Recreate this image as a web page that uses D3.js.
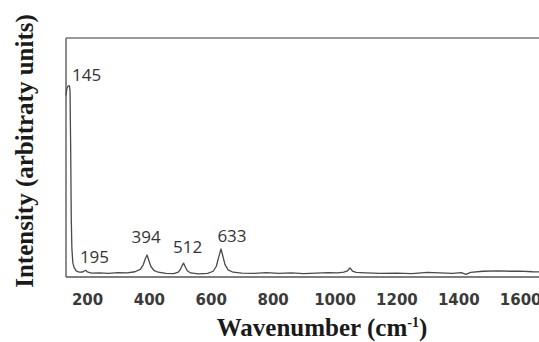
<!DOCTYPE html>
<html>
<head>
<meta charset="utf-8">
<script src="https://cdn.jsdelivr.net/npm/d3@7"></script>
<style>
  html, body { margin: 0; padding: 0; background: #fff; }
  svg { display: block; }
</style>
</head>
<body>
<svg id="chart" width="539" height="342"></svg>
<script>
// spectrum
const wavenumbers = [132, 135, 139, 143, 145, 147, 149, 151, 154, 158, 165, 175, 186, 195, 203, 215, 240, 270, 300, 330, 355, 372, 382, 388, 394, 399, 406, 416, 430, 455, 480, 495, 503, 508, 512, 517, 524, 535, 560, 590, 608, 618, 626, 633, 639, 646, 656, 672, 700, 740, 780, 820, 860, 900, 940, 980, 1010, 1030, 1042, 1050, 1058, 1070, 1100, 1150, 1200, 1250, 1300, 1340, 1380, 1410, 1425, 1440, 1480, 1530, 1570, 1600, 1640, 1700, 1760, 1800];
const intensity   = [76, 79, 80, 80, 78, 55, 25, 12, 6, 4, 2.6, 2, 2.1, 2.8, 2, 1.6, 1.7, 1.5, 1.8, 1.7, 2.2, 3.2, 5.2, 7.5, 9.2, 7.2, 4.5, 2.8, 2.0, 1.5, 1.4, 2.0, 3.4, 5.0, 5.8, 4.4, 2.6, 1.7, 1.3, 1.5, 2.4, 4.5, 8.5, 11.7, 8.8, 5.2, 3.0, 2.0, 1.6, 1.5, 1.8, 1.5, 1.7, 1.4, 1.6, 1.8, 1.7, 2.0, 2.6, 3.8, 2.5, 1.9, 1.7, 1.5, 1.6, 1.4, 1.9, 1.7, 1.5, 1.8, 1.1, 1.9, 2.4, 2.6, 2.4, 2.5, 2.2, 2.0, 1.8, 1.8];

const peakLabels = ["145", "195", "394", "512", "633"];
const peakAt     = [145, 195, 394, 512, 633];
const peakHeight = [80, 2.8, 9.2, 5.8, 11.7];

const xTicks = [200, 400, 600, 800, 1000, 1200, 1400, 1600];

const svg = d3.select("#chart");
const plotLeft = 66, plotRight = 582, plotTop = 38, plotBottom = 277;

const x = d3.scaleLinear().domain([132, 1800]).range([plotLeft, plotRight]);
const y = d3.scaleLinear().domain([0, 100]).range([plotBottom, plotTop]);

// frame
svg.append("line")
  .attr("x1", plotLeft).attr("x2", plotRight + 10)
  .attr("y1", plotTop).attr("y2", plotTop)
  .attr("stroke", "#9a9a9a").attr("stroke-width", 2);
svg.append("line")
  .attr("x1", plotLeft).attr("x2", plotLeft)
  .attr("y1", plotTop).attr("y2", plotBottom)
  .attr("stroke", "#666").attr("stroke-width", 1.5);
svg.append("line")
  .attr("x1", plotLeft).attr("x2", plotRight + 10)
  .attr("y1", plotBottom).attr("y2", plotBottom)
  .attr("stroke", "#555").attr("stroke-width", 1.5);

// x axis, labels only
const xAxis = d3.axisBottom(x).tickValues(xTicks).tickFormat(d3.format("d")).tickSize(0).tickPadding(0);
const gx = svg.append("g")
  .attr("transform", `translate(0, ${plotBottom})`)
  .call(xAxis);
gx.select(".domain").remove();
gx.selectAll("text")
  .attr("dy", null)
  .attr("y", 28)
  .attr("fill", "#3a3a3a")
  .style("font-family", "'DejaVu Sans', Verdana, sans-serif")
  .style("font-weight", "bold")
  .style("font-size", "15px");

// spectrum
const line = d3.line()
  .x((d, i) => x(wavenumbers[i]))
  .y(d => y(d));

svg.append("path")
  .datum(intensity)
  .attr("fill", "none")
  .attr("stroke", "#4a4a4a")
  .attr("stroke-width", 1.3)
  .attr("stroke-linejoin", "round")
  .attr("d", line);

// peak annotations
const nudge = [[6, 0], [9, -7], [-1, -12], [4, -10], [11, -7]];
svg.selectAll(".peak")
  .data(peakLabels)
  .join("text")
  .attr("class", "peak")
  .attr("x", (d, i) => i === 0 ? x(peakAt[i]) + 2 : x(peakAt[i]) + nudge[i][0])
  .attr("y", (d, i) => i === 0 ? y(peakHeight[i]) - 5 : y(peakHeight[i]) + nudge[i][1])
  .attr("text-anchor", (d, i) => i === 0 ? "start" : "middle")
  .attr("fill", "#333")
  .style("font-family", "'Open Sans', sans-serif")
  .style("font-size", "17px")
  .text(d => d);

// axis titles
const xTitle = svg.append("text")
  .attr("x", 322).attr("y", 336)
  .attr("text-anchor", "middle")
  .attr("fill", "#1a1a1a")
  .style("font-family", "'Liberation Serif', 'Times New Roman', serif")
  .style("font-weight", "bold")
  .style("font-size", "25px");
xTitle.append("tspan").text("Wavenumber (cm");
xTitle.append("tspan").attr("dy", -9).style("font-size", "14px").text("-1");
xTitle.append("tspan").attr("dy", 9).text(")");

svg.append("text")
  .attr("transform", "translate(33, 151) rotate(-90)")
  .attr("text-anchor", "middle")
  .attr("fill", "#1a1a1a")
  .style("font-family", "'Liberation Serif', 'Times New Roman', serif")
  .style("font-weight", "bold")
  .style("font-size", "25px")
  .text("Intensity (arbitraty units)");
</script>
</body>
</html>
